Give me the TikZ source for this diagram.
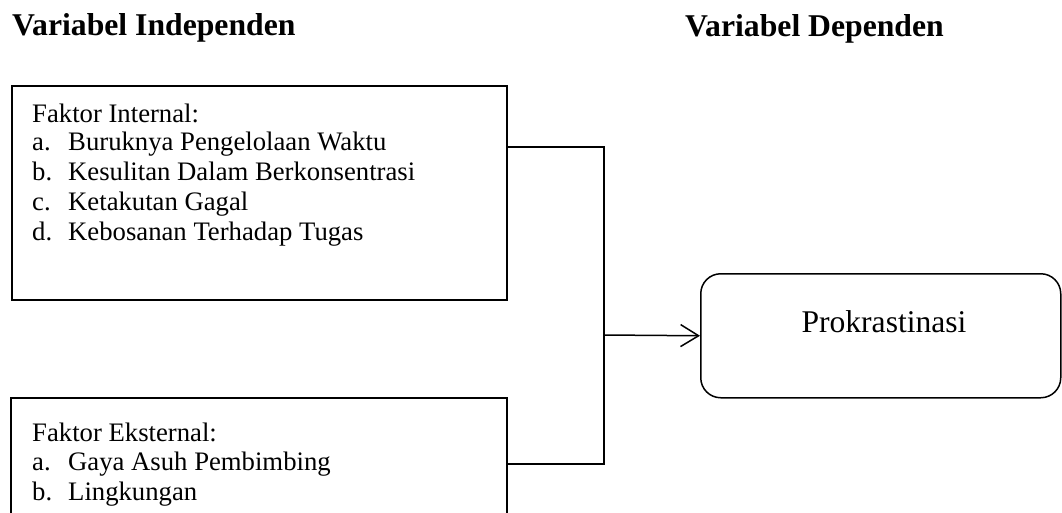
\documentclass[tikz,border=0pt]{standalone}
\usepackage{fontspec}
\setmainfont{Liberation Serif}
\usetikzlibrary{arrows.meta}
\begin{document}
\begin{tikzpicture}[x=1pt,y=-1pt,
  line/.style={line width=1.5pt},
  boxi/.style={draw,line width=1.5pt,anchor=north west,inner sep=0pt},
  ttl/.style={font=\fontsize{31.7}{38}\selectfont\bfseries,anchor=base west,inner sep=0pt},
  body/.style={font=\fontsize{26.7}{30}\selectfont,anchor=base west,inner sep=0pt},
  arr/.style={-{Straight Barb[length=18pt,width=22pt,line width=1.5pt]}}]
\clip (0,0) rectangle (1062,512);
\fill[white] (0,0) rectangle (1062,512);
% titles
\node[ttl] (t1) at (12,35) {Variabel Independen};
\node[ttl] (t2) at (685,36) {Variabel Dependen};
% boxes
\node[boxi,minimum width=495pt,minimum height=214pt] (b1) at (11,85) {};
\node[boxi,minimum width=496pt,minimum height=140pt] (b2) at (10,397) {};
\node[boxi,rounded corners=20pt,minimum width=360pt,minimum height=124pt] (p) at (700,273) {};
% box 1 text
\node[body] (h1) at (32,122) {Faktor Internal:};
\node[body] (l1a) at (32,150) {a.};
\node[body] (i1a) at (68,150) {Buruknya Pengelolaan Waktu};
\node[body] (l1b) at (32,180) {b.};
\node[body] (i1b) at (68,180) {Kesulitan Dalam Berkonsentrasi};
\node[body] (l1c) at (32,210) {c.};
\node[body] (i1c) at (68,210) {Ketakutan Gagal};
\node[body] (l1d) at (32,240) {d.};
\node[body] (i1d) at (68,240) {Kebosanan Terhadap Tugas};
% box 2 text
\node[body] (h2) at (32,441) {Faktor Eksternal:};
\node[body] (l2a) at (32,470) {a.};
\node[body] (i2a) at (68,470) {Gaya Asuh Pembimbing};
\node[body] (l2b) at (32,500) {b.};
\node[body] (i2b) at (68,500) {Lingkungan};
% dependent text
\node[font=\fontsize{31.6}{38}\selectfont,anchor=base,inner sep=0pt] (pt) at (884,332) {Prokrastinasi};
% connectors
\coordinate (j) at (604,335);
\draw[line] ([yshift=-62pt]b1.north east) -| (j);
\draw[line] ([yshift=-67pt]b2.north east) -| (j);
\draw[line,arr] (j) -- (p.west);
\end{tikzpicture}
\end{document}
